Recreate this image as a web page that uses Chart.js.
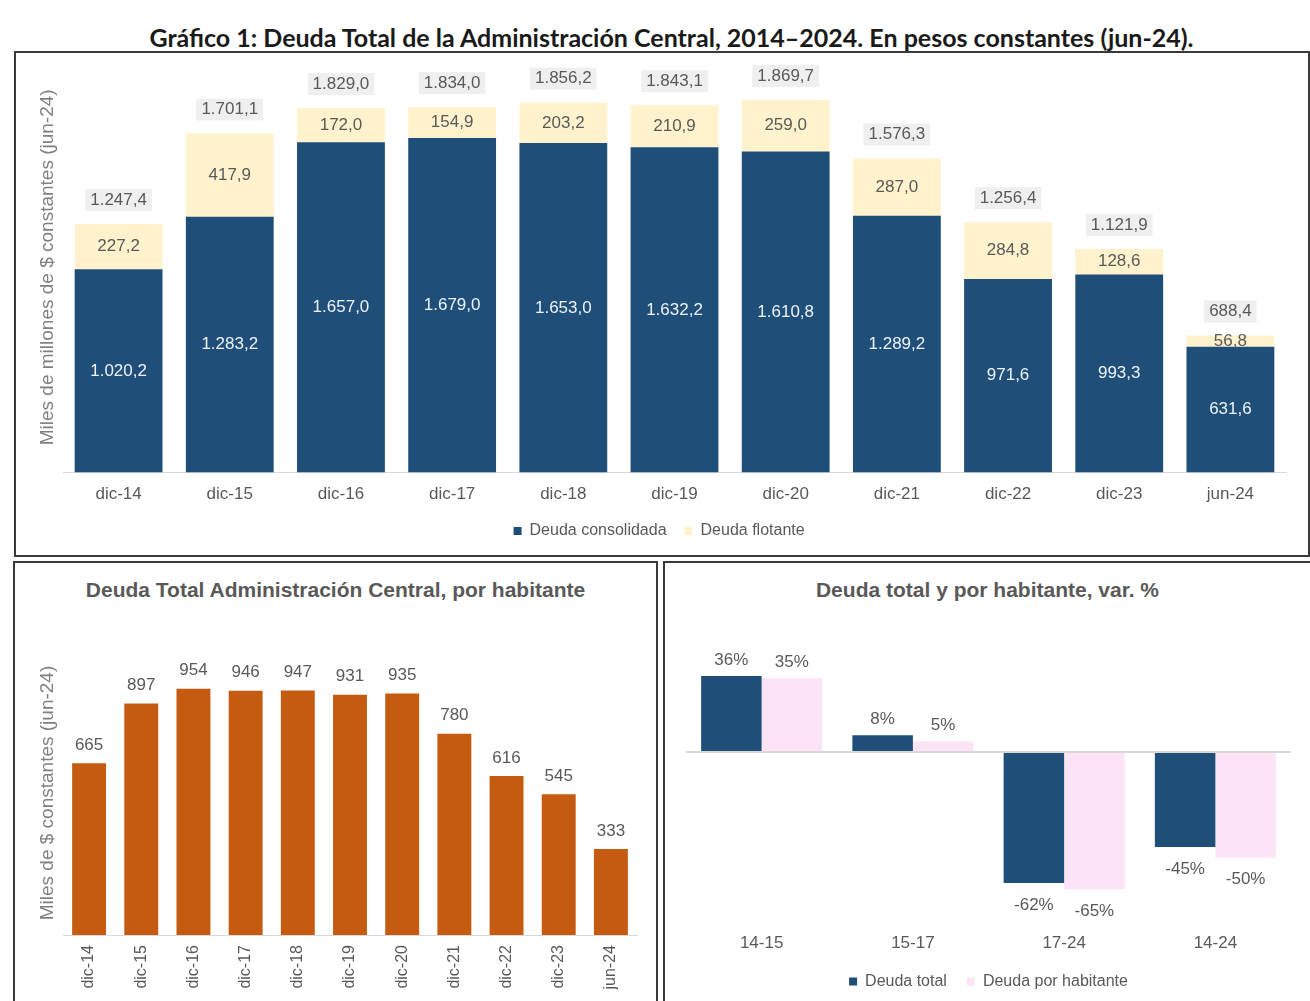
<!DOCTYPE html>
<html><head><meta charset="utf-8">
<script src="https://cdn.jsdelivr.net/npm/chart.js@4.4.1/dist/chart.umd.min.js"></script>
<style>
html,body{margin:0;padding:0;background:#fff;width:1310px;height:1001px;overflow:hidden;position:relative;}
.box{position:absolute;border:2px solid #3a3a3a;box-sizing:border-box;}
#title{position:absolute;left:0;width:1343px;top:22px;text-align:center;font:bold 25px Lato;color:#1a1a1a;white-space:nowrap;line-height:30px;}
.sub{position:absolute;text-align:center;font:bold 21px 'Liberation Sans';color:#595959;white-space:nowrap;}
canvas{position:absolute;}
</style></head><body>
<div id="title">Gráfico 1: Deuda Total de la Administración Central, 2014–2024. En pesos constantes (jun-24).</div>
<div class="box" style="left:14px;top:51px;width:1296px;height:506px;"></div>
<div class="box" style="left:13px;top:561px;width:645px;height:450px;"></div>
<div class="box" style="left:663px;top:561px;width:660px;height:450px;"></div>
<div class="sub" style="left:15px;width:641px;top:578px;">Deuda Total Administración Central, por habitante</div>
<div class="sub" style="left:665px;width:645px;top:578px;">Deuda total y por habitante, var. %</div>
<canvas id="c1" width="1292" height="502" style="left:16px;top:53px;"></canvas>
<canvas id="c2" width="641" height="438" style="left:15px;top:563px;"></canvas>
<canvas id="c3" width="645" height="438" style="left:665px;top:563px;"></canvas>
<script>
// ---- data ----
const categories = ['dic-14','dic-15','dic-16','dic-17','dic-18','dic-19','dic-20','dic-21','dic-22','dic-23','jun-24'];
const deudaConsolidada = [1020.2,1283.2,1657.0,1679.0,1653.0,1632.2,1610.8,1289.2,971.6,993.3,631.6];
const deudaFlotante = [227.2,417.9,172.0,154.9,203.2,210.9,259.0,287.0,284.8,128.6,56.8];
const deudaTotal = [1247.4,1701.1,1829.0,1834.0,1856.2,1843.1,1869.7,1576.3,1256.4,1121.9,688.4];
const deudaPorHabitante = [665,897,954,946,947,931,935,780,616,545,333];
const periodos = ['14-15','15-17','17-24','14-24'];
const varDeudaTotal = [36,8,-62,-45];
const varDeudaHabitante = [35,5,-65,-50];

const NAVY = '#1f4e79', CREAM = '#fff2cc', ORANGE = '#c55a11', PINK = '#fce4f6';
const GRAY = '#595959', AXISGRAY = '#808080', LINE = '#d9d9d9';
const FONT = "'Liberation Sans', Arial, sans-serif";

function fmt(v, d) {
  const s = v.toFixed(d);
  let parts = s.split('.');
  let i = parts[0].replace(/\B(?=(\d{3})+(?!\d))/g, '.');
  return parts[1] ? i + ',' + parts[1] : i;
}
function txt(ctx, t, x, y, color, size) {
  ctx.save();
  ctx.font = size + 'px ' + FONT;
  ctx.fillStyle = color;
  ctx.textAlign = 'center';
  ctx.textBaseline = 'middle';
  ctx.fillText(t, x, y);
  ctx.restore();
}

// ---- Chart 1 ----
new Chart(document.getElementById('c1'), {
  type: 'bar',
  data: {
    labels: categories,
    datasets: [
      {label: 'Deuda consolidada', data: deudaConsolidada, backgroundColor: NAVY, barPercentage: 0.79, categoryPercentage: 1},
      {label: 'Deuda flotante', data: deudaFlotante, backgroundColor: CREAM, barPercentage: 0.79, categoryPercentage: 1}
    ]
  },
  options: {
    responsive: false, animation: false,
    layout: {padding: {left: 16.2, right: 22, top: 9, bottom: 6}},
    plugins: {
      legend: {position: 'bottom', labels: {boxWidth: 8, boxHeight: 8, padding: 18, color: GRAY, font: {family: FONT, size: 16}}},
      tooltip: {enabled: false}
    },
    scales: {
      x: {stacked: true, grid: {display: false, drawTicks: true, tickLength: 12}, border: {display: true, color: LINE},
          ticks: {color: GRAY, padding: 0, font: {family: FONT, size: 17}}},
      y: {stacked: true, min: 0, max: 2060, grid: {display: false, drawTicks: false}, border: {display: false},
          ticks: {display: false},
          title: {display: true, text: 'Miles de millones de $ constantes (jun-24)', color: AXISGRAY, font: {family: FONT, size: 19}}}
    }
  },
  plugins: [{
    id: 'labels1',
    afterDatasetsDraw(chart) {
      const ctx = chart.ctx;
      const m0 = chart.getDatasetMeta(0).data, m1 = chart.getDatasetMeta(1).data;
      m0.forEach((el, i) => txt(ctx, fmt(deudaConsolidada[i], 1), el.x, (el.y + el.base) / 2, '#eef3fa', 17));
      m1.forEach((el, i) => {
        txt(ctx, fmt(deudaFlotante[i], 1), el.x, (el.y + el.base) / 2, GRAY, 17);
        const t = fmt(deudaTotal[i], 1);
        ctx.save();
        ctx.font = '17px ' + FONT;
        const w = ctx.measureText(t).width + 10;
        const cy = el.y - 24;
        ctx.fillStyle = '#efefef';
        ctx.fillRect(el.x - w / 2, cy - 11, w, 22);
        ctx.restore();
        txt(ctx, t, el.x, cy, GRAY, 17);
      });
    }
  }]
});

// ---- Chart 2 ----
new Chart(document.getElementById('c2'), {
  type: 'bar',
  data: {
    labels: categories,
    datasets: [{label: 'Deuda por habitante', data: deudaPorHabitante, backgroundColor: ORANGE, barPercentage: 0.65, categoryPercentage: 1}]
  },
  options: {
    responsive: false, animation: false,
    layout: {padding: {left: 17.2, right: 19, top: 88, bottom: 11.5}},
    plugins: {legend: {display: false}, tooltip: {enabled: false}},
    scales: {
      x: {grid: {display: false, drawTicks: true, tickLength: 10}, border: {display: true, color: LINE},
          ticks: {color: GRAY, padding: 0, autoSkip: false, minRotation: 90, maxRotation: 90, font: {family: FONT, size: 16}}},
      y: {min: 0, max: 1100, grid: {display: false, drawTicks: false}, border: {display: false}, ticks: {display: false},
          title: {display: true, text: 'Miles de $ constantes (jun-24)', color: AXISGRAY, font: {family: FONT, size: 19}}}
    }
  },
  plugins: [{
    id: 'labels2',
    afterDatasetsDraw(chart) {
      const ctx = chart.ctx;
      chart.getDatasetMeta(0).data.forEach((el, i) => txt(ctx, fmt(deudaPorHabitante[i], 0), el.x, el.y - 18, GRAY, 17));
    }
  }]
});

// ---- Chart 3 ----
new Chart(document.getElementById('c3'), {
  type: 'bar',
  data: {
    labels: periodos,
    datasets: [
      {label: 'Deuda total', data: varDeudaTotal, backgroundColor: NAVY, barPercentage: 1, categoryPercentage: 0.8},
      {label: 'Deuda por habitante', data: varDeudaHabitante, backgroundColor: PINK, barPercentage: 1, categoryPercentage: 0.8}
    ]
  },
  options: {
    responsive: false, animation: false,
    layout: {padding: {left: 21, right: 19, top: 83.5, bottom: 1.6}},
    plugins: {
      legend: {position: 'bottom', labels: {boxWidth: 8, boxHeight: 8, padding: 20, color: GRAY, font: {family: FONT, size: 16}}},
      tooltip: {enabled: false}
    },
    scales: {
      x: {grid: {display: false, drawTicks: true, tickLength: 12}, border: {display: false},
          ticks: {color: GRAY, padding: 0, font: {family: FONT, size: 17}}},
      y: {min: -80, max: 50, border: {display: false},
          grid: {drawTicks: false, lineWidth: 2, color: (c) => (c.tick && c.tick.value === 0) ? LINE : 'rgba(0,0,0,0)'},
          ticks: {display: false, stepSize: 10}}
    }
  },
  plugins: [{
    id: 'labels3',
    afterDatasetsDraw(chart) {
      const ctx = chart.ctx;
      [varDeudaTotal, varDeudaHabitante].forEach((arr, d) => {
        chart.getDatasetMeta(d).data.forEach((el, i) => {
          const v = arr[i];
          const y = v >= 0 ? el.y - 16 : el.y + 22;
          txt(ctx, v + '%', el.x, y, GRAY, 17);
        });
      });
    }
  }]
});
</script>
</body></html>
